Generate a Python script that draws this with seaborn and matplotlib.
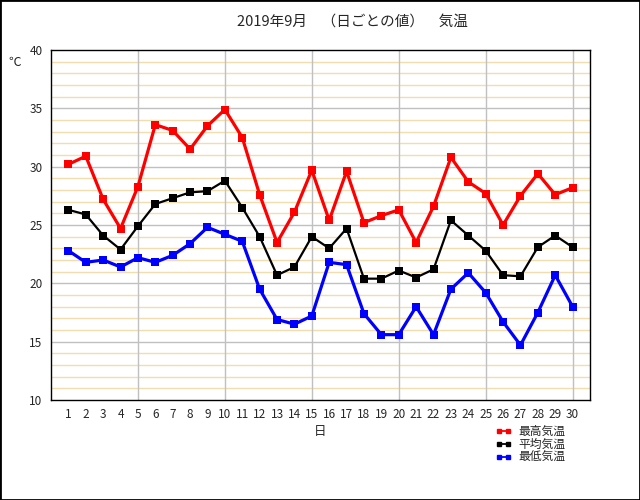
"""
2019年9月 日ごとの気温 (最高・平均・最低)
"""

# import section
import pandas as pd
import seaborn as sns
import matplotlib.pyplot as plt
from matplotlib.lines import Line2D
from matplotlib.patches import Rectangle

# data
DAYS = list(range(1, 31))
T_MAX = [30.2, 30.9, 27.2, 24.7, 28.3, 33.6, 33.1, 31.5, 33.5, 34.9,
         32.5, 27.6, 23.5, 26.1, 29.7, 25.4, 29.6, 25.2, 25.8, 26.3,
         23.5, 26.6, 30.8, 28.7, 27.7, 25.0, 27.5, 29.4, 27.6, 28.2]
T_MEAN = [26.3, 25.9, 24.1, 22.9, 24.9, 26.8, 27.3, 27.8, 27.9, 28.8,
          26.5, 24.0, 20.7, 21.4, 24.0, 23.0, 24.7, 20.4, 20.4, 21.1,
          20.5, 21.2, 25.4, 24.1, 22.8, 20.7, 20.6, 23.1, 24.1, 23.1]
T_MIN = [22.8, 21.8, 22.0, 21.4, 22.2, 21.8, 22.4, 23.4, 24.8, 24.2,
         23.6, 19.5, 16.9, 16.5, 17.2, 21.8, 21.6, 17.4, 15.6, 15.6,
         18.0, 15.6, 19.5, 20.9, 19.2, 16.7, 14.7, 17.5, 20.7, 18.0]
SERIES = ['最高気温', '平均気温', '最低気温']
COLORS = ['#FF0000', '#000000', '#0000FF']

TEMPS = pd.DataFrame({'日': DAYS * 3,
                      '気温': T_MAX + T_MEAN + T_MIN,
                      '種別': [s for s in SERIES for _ in DAYS]})

# set plot dimensions
X_PIXELS, Y_PIXELS, DPI = 640, 500, 100
sns.set_style('white')
plt.rcParams['font.family'] = ['Noto Sans CJK JP', 'DejaVu Sans']

fig = plt.figure(figsize=(X_PIXELS / DPI, Y_PIXELS / DPI), dpi=DPI)
ax = fig.add_axes([51 / 640, 0.2, 539 / 640, 0.7])

# grid: wheat minor lines every 1 deg, grey major lines
for v in range(11, 40):
    if v % 5:
        ax.axhline(v, color='#F3DDAE', lw=1, zorder=0)
for v in range(15, 40, 5):
    ax.axhline(v, color='#C0C0C0', lw=1, zorder=0)
for d in range(5, 31, 5):
    ax.axvline(d, color='#C0C0C0', lw=1, zorder=0)

n_before = len(ax.lines)
sns.lineplot(data=TEMPS, x='日', y='気温', hue='種別', hue_order=SERIES,
             palette=COLORS, marker='s', markersize=6, markeredgewidth=0,
             linewidth=2.3, legend=False, ax=ax, zorder=3)
# mean line is drawn thinner in the original
ax.lines[n_before + 1].set_linewidth(1.6)

ax.set_xlim(0, 31)
ax.set_ylim(10, 40)
ax.set_xticks(DAYS)
ax.set_yticks(range(10, 41, 5))
ax.tick_params(length=0, labelsize=8.5, pad=6)
ax.set_xlabel('日', fontsize=9, labelpad=3)
ax.set_ylabel('')
for s in ax.spines.values():
    s.set_color('black')
    s.set_linewidth(1.0)

fig.text(15 / 640, 1 - 62 / 500, '℃', fontsize=9, ha='center', va='center')
fig.text(352 / 640, 1 - 22 / 500, '2019年9月　（日ごとの値）　気温',
         fontsize=10.5, ha='center', va='center')

# legend
handles = [Line2D([0], [0], color=c, lw=1.3, marker='s', markersize=2.5)
           for c in COLORS]
fig.legend(handles, SERIES, loc='upper left', bbox_to_anchor=(490 / 640, 1 - 419 / 500),
           frameon=False, fontsize=8.5, handlelength=1.3, handletextpad=0.6,
           labelspacing=0.0, borderpad=0, numpoints=2)

# outer border
fig.patches.append(Rectangle((0, 0), 1, 1, transform=fig.transFigure,
                             fill=False, edgecolor='black', lw=2))

plt.savefig('out.png', dpi=DPI)
